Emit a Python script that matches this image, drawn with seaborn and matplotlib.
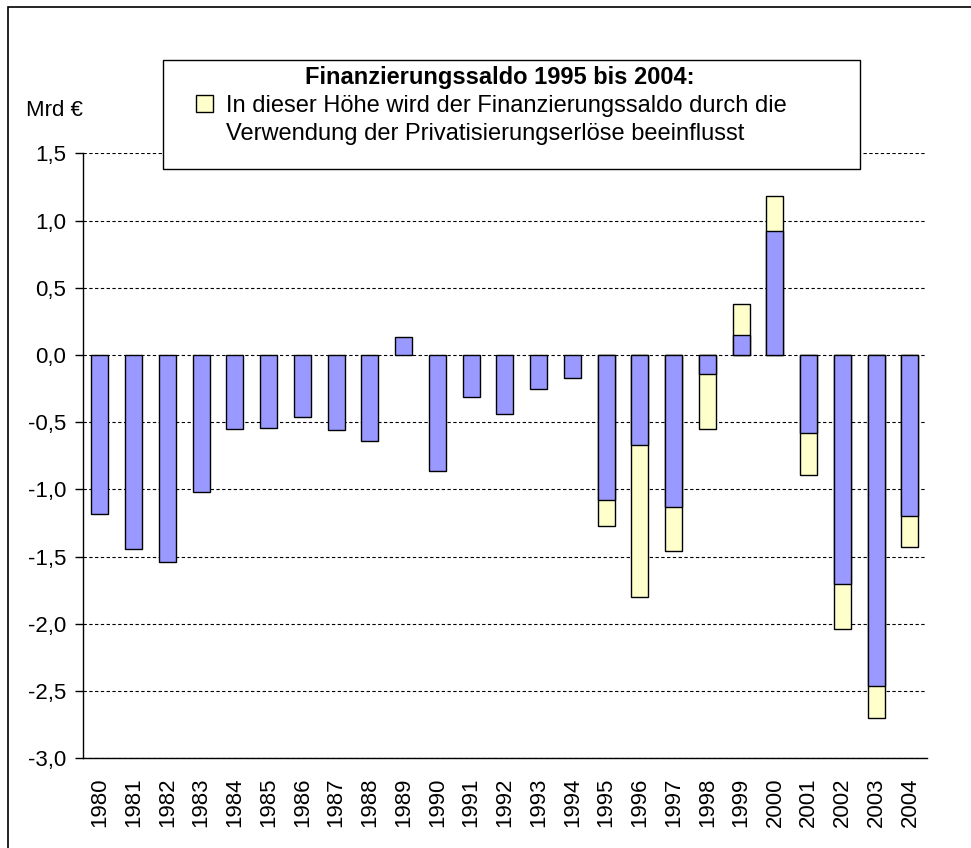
"""Finanzierungssaldo 1980-2004 mit Effekt der Privatisierungserlöse (Mrd €)."""

import matplotlib.pyplot as plt
import pandas as pd
import seaborn as sns
from matplotlib.legend_handler import HandlerPatch
from matplotlib.patches import Patch, Rectangle
from matplotlib.ticker import FixedLocator, FuncFormatter

# ── Daten ────────────────────────────────────────────────────────────────────
YEARS = [str(y) for y in range(1980, 2005)]
# Finanzierungssaldo ohne Privatisierungserlöse (blaue Säulen)
SALDO = [-1.18, -1.44, -1.54, -1.02, -0.55, -0.54, -0.46, -0.56, -0.64, 0.13,
         -0.86, -0.31, -0.44, -0.25, -0.17, -1.08, -0.67, -1.13, -0.14, 0.15,
         0.92, -0.58, -1.70, -2.46, -1.20]
# Saldo einschließlich Privatisierungseffekt (Ende der gelben Säulen), 1995-2004
PRIV_YEARS = [str(y) for y in range(1995, 2005)]
SALDO_GESAMT = [-1.27, -1.80, -1.46, -0.55, 0.38, 1.18, -0.89, -2.04, -2.70, -1.43]

Y_TICKS = [-3.0, -2.5, -2.0, -1.5, -1.0, -0.5, 0.0, 0.5, 1.0, 1.5]

BLUE = "#9999FF"
YELLOW = "#FFFFCC"
W, H = 971, 848

LEGEND_TITLE = "Finanzierungssaldo 1995 bis 2004:"
LEGEND_LABEL = ("In dieser Höhe wird der Finanzierungssaldo durch die\n"
                "Verwendung der Privatisierungserlöse beeinflusst")
LEG_FS = 17
SQUARE_OFFSET_PT = 28.3 * 0.72 - 8.7   # Kästchen auf Höhe der ersten Zeile
SQUARE_PT = 17 * 0.72                  # Kantenlänge des Legendenkästchens


def px(x, y):
    """Pixel (von oben links) -> Figure-Koordinaten."""
    return x / W, 1 - y / H


def square_first_line(legend, orig_handle, xdescent, ydescent, width, height, fontsize):
    return Rectangle((-xdescent, SQUARE_OFFSET_PT), SQUARE_PT, SQUARE_PT)


sns.set_style("white")
plt.rcParams["font.family"] = ["Liberation Sans", "DejaVu Sans"]
plt.rcParams["text.color"] = "black"

fig = plt.figure(figsize=(W / 100, H / 100), dpi=100)
left, top = 83, 153.3
right, bottom = 926.8, 758.3
ax = fig.add_axes([left / W, 1 - bottom / H, (right - left) / W, (bottom - top) / H])

df_blue = pd.DataFrame({"jahr": YEARS, "saldo": SALDO})
df_yel = pd.DataFrame({"jahr": PRIV_YEARS, "saldo": SALDO_GESAMT})

bar_kw = dict(x="jahr", y="saldo", order=YEARS, saturation=1, width=0.5,
              edgecolor="black", linewidth=1, errorbar=None, ax=ax, zorder=3)
# gelbe Säule bis zum Gesamtsaldo, blaue Säule darüber
sns.barplot(data=df_yel, color=YELLOW, **bar_kw)
sns.barplot(data=df_blue, color=BLUE, **bar_kw)

ax.set_xlim(-0.5, len(YEARS) - 0.5)
ax.set_ylim(-3.0, 1.5)
ax.set_xlabel("")
ax.set_ylabel("")

ax.yaxis.set_major_locator(FixedLocator(Y_TICKS))
ax.yaxis.set_major_formatter(FuncFormatter(lambda v, _: f"{v:.1f}".replace(".", ",")))
ax.yaxis.grid(True, linestyle=(0, (3, 2.2)), color="black", linewidth=0.8)
ax.xaxis.grid(False)
ax.set_axisbelow(True)

ax.set_xticks(range(len(YEARS)))
ax.set_xticklabels(YEARS, rotation=90)
ax.set_xticks([i - 0.5 for i in range(len(YEARS))], minor=True)
ax.tick_params(axis="x", which="major", length=0, pad=14, labelsize=16, colors="black")
ax.tick_params(axis="x", which="minor", length=6, width=1, direction="out", color="black")
ax.tick_params(axis="y", length=6, width=1, direction="out", pad=6, labelsize=16,
               left=True, color="black", labelcolor="black")

for side in ("top", "right"):
    ax.spines[side].set_visible(False)
for side in ("left", "bottom"):
    ax.spines[side].set_color("black")
    ax.spines[side].set_linewidth(1)

# ── Legendenkasten ────────────────────────────────────────────────────────────
x0, y0 = px(163, 169.3)
fig.add_artist(Rectangle((x0, y0), (860 - 163) / W, (169.3 - 60.5) / H,
                         transform=fig.transFigure, facecolor="white",
                         edgecolor="black", linewidth=1, zorder=4))
fig.text(*px(500, 84.3), LEGEND_TITLE, ha="center", va="baseline",
         fontsize=LEG_FS, fontweight="bold", zorder=6)
yellow_patch = Patch(facecolor=YELLOW, edgecolor="black", linewidth=1, label=LEGEND_LABEL)
leg = fig.legend(handles=[yellow_patch], loc="lower left", bbox_to_anchor=px(196, 145),
                 frameon=False, fontsize=LEG_FS, labelcolor="black",
                 handlelength=SQUARE_PT / LEG_FS, handleheight=0.7, handletextpad=0.55,
                 borderpad=0, borderaxespad=0,
                 handler_map={Patch: HandlerPatch(patch_func=square_first_line)})
leg.set_zorder(6)
for t in leg.get_texts():
    t.set_linespacing(1.33)

fig.text(*px(26, 110), "Mrd €", ha="left", va="center", fontsize=16)

# Rahmen um die Grafik (rechts/unten außerhalb des Bildes)
fig.add_artist(Rectangle((8 / W, -0.1), 1.2, 1 - 7 / H + 0.1, transform=fig.transFigure,
                         fill=False, edgecolor="black", linewidth=1.2, clip_on=False))

fig.savefig("out.png", dpi=100)
